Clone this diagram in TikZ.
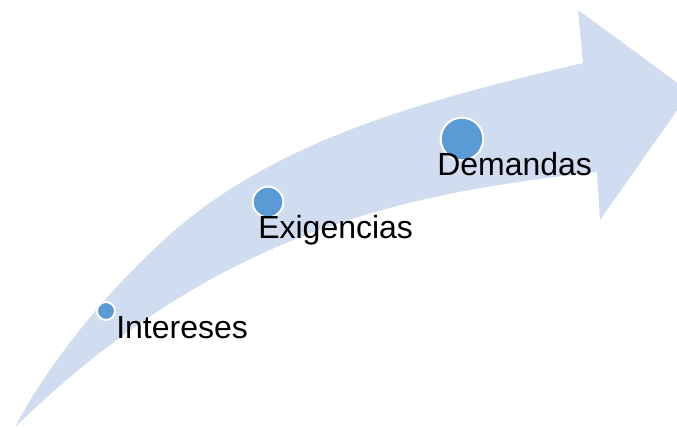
\documentclass[tikz,border=0pt]{standalone}
\usepackage{fontspec}
\setmainfont{Liberation Sans}
\definecolor{bandblue}{RGB}{208,220,239}
\definecolor{dotblue}{RGB}{91,155,213}
\begin{document}
\begin{tikzpicture}[x=0.75pt,y=-0.75pt,
  dotmark/.style={circle,fill=dotblue,draw=white,line width=1.5pt,inner sep=0pt},
  lbl/.style={anchor=base west,inner sep=0pt,font=\fontsize{24}{28}\selectfont}]
\useasboundingbox (0,0) rectangle (677,428);
\clip (0,0) rectangle (677,428);
\fill[bandblue]
  (15,427) .. controls (60,342) and (140,255) .. (200,210)
  .. controls (310,128) and (453,94) .. (583,63)
  -- (578,10) -- (690,92) -- (600,220) -- (597,172)
  .. controls (397,194) and (215,233) .. (15,427)
  -- cycle;
\node[dotmark,minimum size=13.5pt] (d1) at (106,311) {};
\node[dotmark,minimum size=23pt] (d2) at (268,202) {};
\node[dotmark,minimum size=32pt] (d3) at (462,139) {};
\node[lbl] (t1) at (116,338) {Intereses};
\node[lbl] (t2) at (258,238) {Exigencias};
\node[lbl] (t3) at (437,175) {Demandas};
\end{tikzpicture}
\end{document}
